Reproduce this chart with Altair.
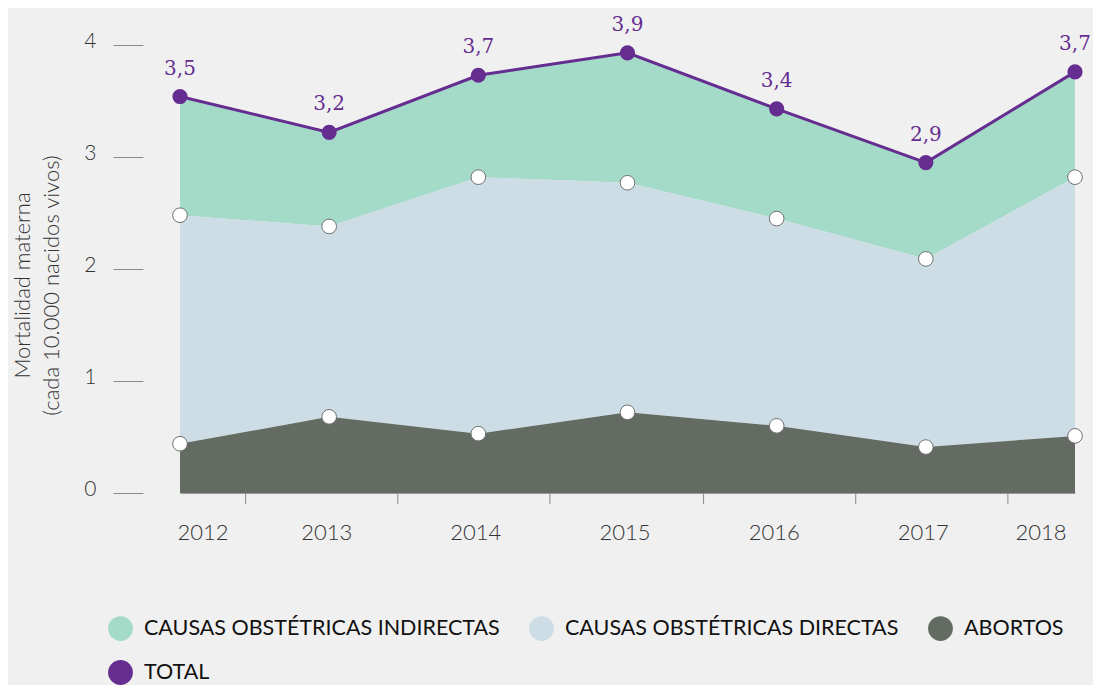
import altair as alt
import pandas as pd

# ---- data ----
years = [2012, 2013, 2014, 2015, 2016, 2017, 2018]
abortos = [0.44, 0.68, 0.53, 0.72, 0.60, 0.41, 0.51]
directas = [2.04, 1.70, 2.29, 2.05, 1.85, 1.68, 2.31]
indirectas = [1.06, 0.84, 0.91, 1.16, 0.98, 0.86, 0.94]
total_labels = ["3,5", "3,2", "3,7", "3,9", "3,4", "2,9", "3,7"]
x_tick_positions = [2012.44, 2013.46, 2014.48, 2015.51, 2016.53, 2017.55]
y_tick_values = [0, 1, 2, 3, 4]

series_names = ["CAUSAS OBSTÉTRICAS INDIRECTAS", "CAUSAS OBSTÉTRICAS DIRECTAS", "ABORTOS", "TOTAL"]
series_colors = ["#a4dac8", "#cddde6", "#646b63", "#652d90"]

PURPLE = "#652d90"
BG = "#f0f0f0"

# ---- derived tables ----
lvl1 = abortos
lvl2 = [a + d for a, d in zip(abortos, directas)]
lvl3 = [b + i for b, i in zip(lvl2, indirectas)]

area_rows = []
for k, y in enumerate(years):
    area_rows.append({"year": y, "lo": lvl2[k], "hi": lvl3[k], "serie": series_names[0]})
    area_rows.append({"year": y, "lo": lvl1[k], "hi": lvl2[k], "serie": series_names[1]})
    area_rows.append({"year": y, "lo": 0, "hi": lvl1[k], "serie": series_names[2]})
area_df = pd.DataFrame(area_rows)

total_df = pd.DataFrame({"year": years, "v": lvl3, "label": total_labels})
white_df = pd.DataFrame({"year": years + years, "v": lvl1 + lvl2})
tick_df = pd.DataFrame({"year": x_tick_positions})

xscale = alt.Scale(domain=[2012, 2018], nice=False, zero=False)
yscale = alt.Scale(domain=[0, 4], nice=False, zero=True)

xaxis = alt.Axis(
    values=years, format="d", title=None, grid=False,
    ticks=False, tickSize=0,
    domain=True, domainColor="#9a9a9a", domainWidth=1,
    labelFont="Lato", labelFontSize=22, labelFontWeight=300, labelColor="#333333",
    labelPadding=29,
    labelOffset={"condition": {"test": "datum.value == 2018", "value": -9}, "value": -3},
)
yaxis = alt.Axis(
    values=y_tick_values, grid=False, domain=False,
    offset=37, tickSize=30, tickColor="#8a8a8a", tickWidth=1,
    labelFont="Lato", labelFontSize=21, labelFontWeight=300, labelColor="#333333",
    labelPadding=17, labelOffset=-4,
    title=["Mortalidad materna", "(cada 10.000 nacidos vivos)"],
    titleFont="Lato", titleFontSize=22, titleFontWeight=300, titleColor="#333333",
    titlePadding=20, titleLineHeight=29, titleY=240,
)

def X():
    return alt.X("year:Q", scale=xscale, axis=xaxis)

areas = alt.Chart(area_df).mark_area(opacity=1).encode(
    x=X(),
    y=alt.Y("lo:Q", scale=yscale, axis=yaxis),
    y2="hi:Q",
    color=alt.Color(
        "serie:N",
        sort=series_names,
        scale=alt.Scale(domain=series_names, range=series_colors),
        legend=alt.Legend(
            title=None, orient="none", legendX=-72, legendY=571,
            direction="horizontal",
            columns=3, columnPadding=29, rowPadding=19,
            symbolType="circle", symbolSize=616, symbolStrokeWidth=0, symbolOpacity=1,
            labelFont="Lato", labelFontSize=21.5, labelColor="#111111", labelOffset=11,
            labelLimit=600, padding=0,
        ),
    ),
)

xticks = alt.Chart(tick_df).mark_rule(color="#8a8a8a", strokeWidth=1).encode(
    x=X(), y=alt.value(448), y2=alt.value(459)
)

line = alt.Chart(total_df).mark_line(color=PURPLE, strokeWidth=3).encode(
    x=X(), y=alt.Y("v:Q", scale=yscale, axis=yaxis)
)

white_pts = alt.Chart(white_df).mark_point(
    filled=True, fill="white", stroke="#707070", strokeWidth=1, size=215, opacity=1
).encode(x=X(), y=alt.Y("v:Q", scale=yscale, axis=yaxis))

purple_pts = alt.Chart(total_df).mark_circle(color=PURPLE, size=230, opacity=1).encode(
    x=X(), y=alt.Y("v:Q", scale=yscale, axis=yaxis)
)

labels = alt.Chart(total_df).mark_text(
    font="DejaVu Serif", fontSize=20, color=PURPLE, dy=-22, baseline="alphabetic", align="center"
).encode(x=X(), y=alt.Y("v:Q", scale=yscale, axis=yaxis), text="label:N")

chart = alt.layer(areas, xticks, line, white_pts, purple_pts, labels).properties(
    width=895, height=448,
    padding={"left": 172, "top": 37, "right": 18, "bottom": 192},
    autosize=alt.AutoSizeParams(type="none"),
    background=BG,
).configure_view(stroke=None)

chart.save("out.html", embed_options={"renderer": "svg", "actions": False})
